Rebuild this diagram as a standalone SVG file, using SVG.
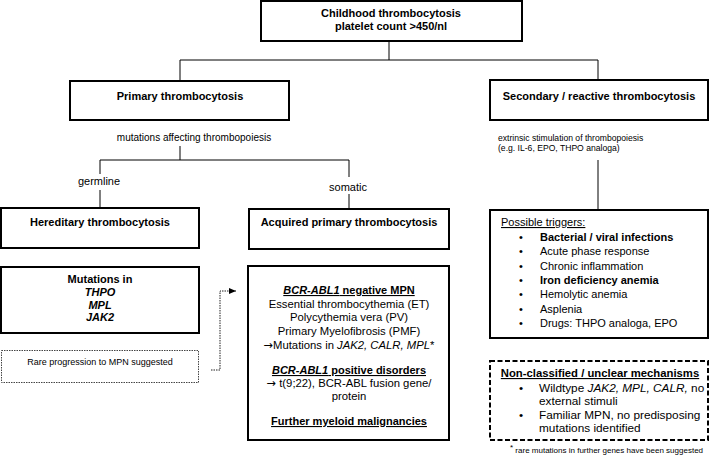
<svg xmlns="http://www.w3.org/2000/svg" width="710" height="458" viewBox="0 0 710 458">
<style>
text{font-family:"Liberation Sans",Arial,sans-serif;fill:#000}
.b{font-weight:bold;font-size:11px}
.r{font-size:11px}
.c{text-anchor:middle}
.box{fill:#fff;stroke:#000;stroke-width:2}
.conn{stroke:#000;stroke-width:1;fill:none}
.u{text-decoration:underline}
.i{font-style:italic}
.ar{font-family:"DejaVu Sans",sans-serif}
</style>
<defs>
<marker id="ah" markerWidth="8" markerHeight="8" refX="7" refY="4" orient="auto" markerUnits="userSpaceOnUse">
<path d="M0,1 L7,4 L0,7 Z" fill="#000"/>
</marker>
</defs>
<rect width="710" height="458" fill="#fff"/>
<g id="connectors">
<path class="conn" d="M389,41 V60 M180,60 H598 M180,60 V80 M598,60 V79"/>
<path class="conn" d="M180,146 V160 M100,160 H349 M100,160 V174 M349,160 V177 M100,190 V207 M349,194 V208"/>
<path class="conn" d="M598,160 V209"/>
<path d="M211,370 H220 V291 H236" fill="none" stroke="#222" stroke-width="1" stroke-dasharray="1.5,1" marker-end="url(#ah)"/>
<text class="c" x="194" y="140.5" style="font-size:10px">mutations affecting thrombopoiesis</text>
<text class="c" x="99" y="185" style="font-size:11px">germline</text>
<text class="c" x="348" y="191" style="font-size:11px">somatic</text>
<text x="498" y="140.5" style="font-size:8.6px">extrinsic stimulation of thrombopoiesis</text>
<text x="498" y="151" style="font-size:8.6px">(e.g. IL-6, EPO, THPO analoga)</text>
</g>
<g id="root">
<rect class="box" x="261" y="1" width="261" height="40"/>
<text class="b c" x="391" y="17">Childhood thrombocytosis</text>
<text class="b c" x="391" y="30">platelet count &gt;450/nl</text>
</g>
<g id="primary">
<rect class="box" x="70" y="81" width="219" height="39"/>
<text class="b c" x="180" y="100">Primary thrombocytosis</text>
</g>
<g id="secondary">
<rect class="box" x="490" y="80" width="218" height="40"/>
<text class="b c" x="599" y="100">Secondary / reactive thrombocytosis</text>
</g>
<g id="hereditary">
<rect class="box" x="1" y="208" width="198" height="40"/>
<text class="b c" x="100" y="226">Hereditary thrombocytosis</text>
</g>
<g id="acquired">
<rect class="box" x="249" y="209" width="200" height="40"/>
<text class="b c" x="349" y="226">Acquired primary thrombocytosis</text>
</g>
<g id="mutations">
<rect class="box" x="1" y="267" width="198" height="66"/>
<text class="b c" x="100" y="283">Mutations in</text>
<text class="b c i" x="100" y="296">THPO</text>
<text class="b c i" x="100" y="309">MPL</text>
<text class="b c i" x="100" y="321">JAK2</text>
</g>
<g id="rare">
<rect x="1.5" y="350.5" width="197" height="32" fill="#fff" stroke="#444" stroke-width="1" stroke-dasharray="1.5,1"/>
<text class="c" x="100" y="364.5" style="font-size:9px">Rare progression to MPN suggested</text>
</g>
<g id="mpn">
<rect class="box" x="248" y="266" width="201" height="174"/>
<text class="b c u" x="349" y="294"><tspan class="i">BCR-ABL1</tspan> negative MPN</text>
<text class="r c" x="349" y="308" style="font-size:11.3px">Essential thrombocythemia (ET)</text>
<text class="r c" x="349" y="321" style="font-size:11.3px">Polycythemia vera (PV)</text>
<text class="r c" x="349" y="335" style="font-size:11.3px">Primary Myelofibrosis (PMF)</text>
<text class="r c" x="349" y="349" style="font-size:11.3px"><tspan class="ar">→</tspan>Mutations in <tspan class="i">JAK2, CALR, MPL</tspan>*</text>
<text class="b c u" x="349" y="374"><tspan class="i">BCR-ABL1</tspan> positive disorders</text>
<text class="r c" x="349" y="387" style="font-size:11.3px"><tspan class="ar">→</tspan> t(9;22), BCR-ABL fusion gene/</text>
<text class="r c" x="349" y="400" style="font-size:11.3px">protein</text>
<text class="b c u" x="349" y="425">Further myeloid malignancies</text>
</g>
<g id="triggers">
<rect class="box" x="490" y="210" width="218" height="128"/>
<text class="r u" x="501" y="226">Possible triggers:</text>
<g class="r">
<text x="519" y="241">•</text><text class="b" x="540" y="241">Bacterial / viral infections</text>
<text x="519" y="255">•</text><text x="540" y="255">Acute phase response</text>
<text x="519" y="270">•</text><text x="540" y="270">Chronic inflammation</text>
<text x="519" y="284">•</text><text class="b" x="540" y="284">Iron deficiency anemia</text>
<text x="519" y="298">•</text><text x="540" y="298">Hemolytic anemia</text>
<text x="519" y="313">•</text><text x="540" y="313">Asplenia</text>
<text x="519" y="327">•</text><text x="540" y="327">Drugs: THPO analoga, EPO</text>
</g>
</g>
<g id="unclassified">
<rect x="490" y="361" width="218" height="79" fill="#fff" stroke="#000" stroke-width="2" stroke-dasharray="5,2.5"/>
<text class="b c u" x="600" y="377" style="font-size:11.3px">Non-classified / unclear mechanisms</text>
<g style="font-size:11.8px">
<text x="519" y="392">•</text><text x="539" y="392">Wildtype <tspan class="i">JAK2, MPL, CALR,</tspan> no</text>
<text x="539" y="405">external stimuli</text>
<text x="519" y="419">•</text><text x="539" y="419">Familiar MPN, no predisposing</text>
<text x="539" y="432">mutations identified</text>
</g>
</g>
<g id="footnote">
<text x="510" y="453" style="font-size:8px"><tspan dy="-3">*</tspan><tspan dy="3"> rare mutations in further genes have been suggested</tspan></text>
</g>
</svg>
